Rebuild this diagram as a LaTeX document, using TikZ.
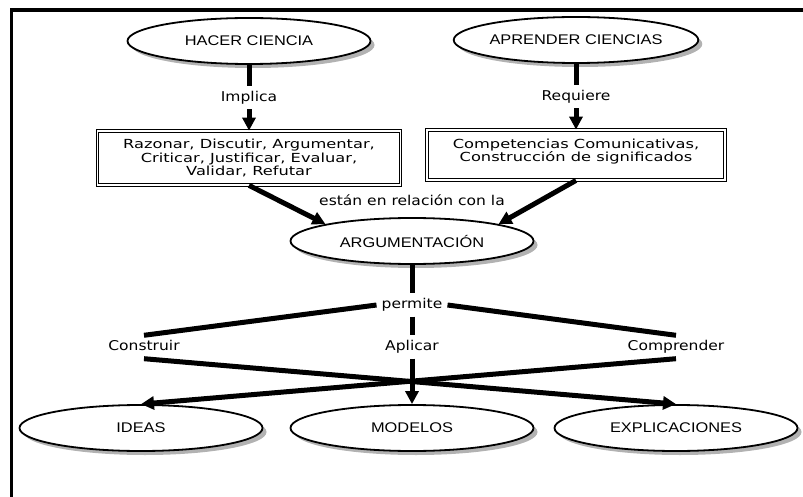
\documentclass[tikz,border=0pt]{standalone}
\usepackage{fontspec}
\newfontfamily\ovalfont[FakeStretch=1.17]{Liberation Sans}
\newfontfamily\labelfont[FakeStretch=1.15]{DejaVu Sans}
\newfontfamily\boxfont[FakeStretch=1.3]{DejaVu Sans}
\usetikzlibrary{shapes.geometric,shadows,arrows.meta}

\begin{document}
\begin{tikzpicture}[x=1pt, y=-1pt,
  oval/.style = {draw, ellipse, line width=1.8pt, fill=white, minimum width=243pt, minimum height=46pt, inner sep=0pt,
    drop shadow={shadow xshift=4pt, shadow yshift=-4pt, fill=black!30, opacity=1}, font=\ovalfont\fontsize{14}{16}\selectfont},
  wordbox/.style = {draw, double, line width=0.8pt, double distance=1.6pt, fill=white, inner sep=0pt, align=center,
    font=\boxfont\fontsize{12.5}{13.3}\selectfont},
  link/.style = {fill=white, inner sep=5pt, text height=10pt, text depth=3pt, font=\labelfont\fontsize{13.5}{16}\selectfont},
  stem/.style = {line width=5pt},
  flow/.style = {line width=5pt, -{Triangle[length=13pt,width=13pt]}},
  border/.style = {line width=3.5pt}]
\useasboundingbox (0,0) rectangle (803,497);
\draw[border] (803,10) -| (11.5,497);
%\node[style] (name) at (x,y) {label};
\node[oval] (hacer) at (249,41) {HACER CIENCIA};
\node[oval] (aprender) at (576,40) {APRENDER CIENCIAS};
\node[wordbox, minimum width=303pt, minimum height=54pt] (razonar) at (249,158)
  {Razonar, Discutir, Argumentar,\\Criticar, Justificar, Evaluar,\\Validar, Refutar};
\node[wordbox, minimum width=298pt, minimum height=50pt, text depth=10pt] (competencias) at (576,155)
  {Competencias Comunicativas,\\Construcción de significados};
\node[link] (relacion) at (412,202) {están en relación con la};
\node[oval] (argumentacion) at (412,241) {ARGUMENTACIÓN};
\node[link] (permite) at (412,305) {permite};
\node[link] (construir) at (144,347) {Construir};
\node[link] (aplicar) at (412,347) {Aplicar};
\node[link] (comprender) at (676,347) {Comprender};
\node[oval] (ideas) at (141,428) {IDEAS};
\node[oval] (modelos) at (412,428) {MODELOS};
\node[oval] (explicaciones) at (676,428) {EXPLICACIONES};

\draw[flow] (hacer) -- node[link] {Implica} (razonar);
\draw[flow] (aprender) -- node[link] {Requiere} (competencias);
\draw[flow] (razonar.south) -- (argumentacion.north west);
\draw[flow] (competencias.south) -- (argumentacion.north east);
\draw[stem] (argumentacion) -- (permite);
\draw[stem] (permite) -- (aplicar);
\draw[flow] (aplicar) -- (modelos);
\draw[stem] (permite.west) -- (construir.north);
\draw[stem] (permite.east) -- (comprender.north);
\draw[flow] (construir.south) -- (explicaciones.north);
\draw[flow] (comprender.south) -- (ideas.north);
\end{tikzpicture}
\end{document}
